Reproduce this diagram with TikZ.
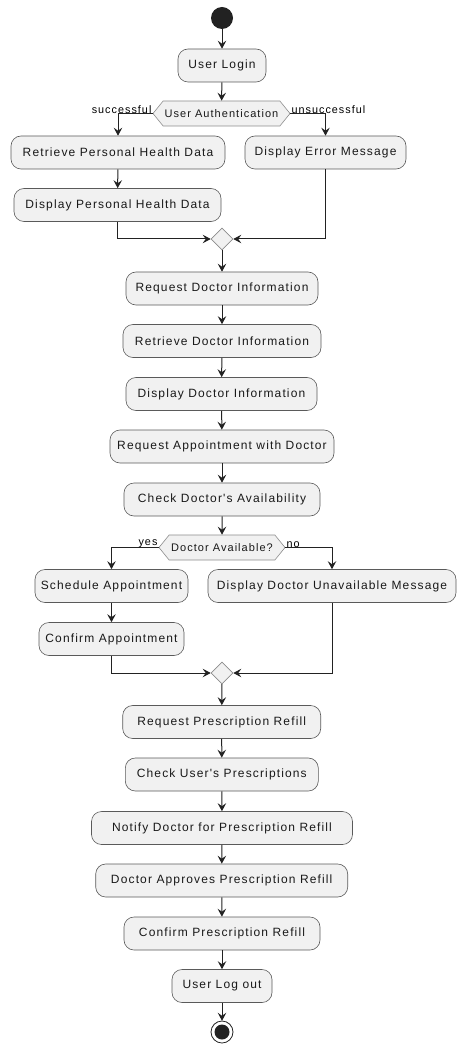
\documentclass[tikz,border=0pt]{standalone}
\usepackage{fontspec}
\setmainfont{Liberation Sans}[LetterSpace=9.5, Ligatures=TeXOff]
\usetikzlibrary{arrows.meta,shapes.symbols,shapes.geometric}
\definecolor{boxfill}{HTML}{F1F1F1}
\definecolor{boxline}{HTML}{5A5A5A}
\definecolor{arr}{HTML}{222222}
\tikzset{
  act/.style={draw=boxline, line width=0.6pt, fill=boxfill, rounded corners=10pt,
    minimum height=33pt, inner xsep=2pt, inner ysep=0pt, font=\fontsize{12}{14}\selectfont, text=black!90},
  dec/.style={shape=signal, signal to=west and east, signal pointer angle=102,
    draw=black!45, line width=0.6pt, fill=boxfill, minimum height=25pt, inner xsep=1pt, inner ysep=0pt,
    font=\fontsize{11}{13}\selectfont, text=black!90},
  merge/.style={diamond, draw=black!45, line width=0.6pt, fill=boxfill, minimum width=22pt, minimum height=22pt, inner sep=0pt},
  flow/.style={draw=arr, line width=1pt, -{Stealth[length=8pt,width=8.5pt,inset=3pt]}},
  lbl/.style={font=\fontsize{10.8}{13}\selectfont, text=black, inner sep=1pt},
}
\begin{document}
\begin{tikzpicture}[x=1pt,y=-1pt]
\useasboundingbox (0,0) rectangle (467,1056);
\fill[arr] (222,18) circle (11pt);
\node[minimum size=22pt, inner sep=0pt] (start) at (222,18) {};

\node[act, minimum width=88pt] (login) at (222,65.5) {User Login};
\node[dec, minimum width=137pt] (auth) at (221.5,113.5) {User Authentication};
\node[act, minimum width=214pt] (ret) at (118,152.5) {Retrieve Personal Health Data};
\node[act, minimum width=161pt] (err) at (325.5,152.5) {Display Error Message};
\node[act, minimum width=207pt] (dphd) at (117.5,205) {Display Personal Health Data};
\node[merge] (m1) at (222,239) {};

\node[act, minimum width=192pt] (reqdoc) at (222,288.5) {Request Doctor Information};
\node[act, minimum width=198pt] (retdoc) at (222,341) {Retrieve Doctor Information};
\node[act, minimum width=191pt] (dispdoc) at (221.5,394) {Display Doctor Information};
\node[act, minimum width=224pt] (reqapp) at (222,446.5) {Request Appointment with Doctor};
\node[act, minimum width=196pt] (check) at (222,499.5) {Check Doctor's Availability};
\node[dec, minimum width=126pt] (avail) at (222,547.5) {Doctor Available?};
\node[act, minimum width=153pt] (sched) at (111.5,586) {Schedule Appointment};
\node[act, minimum width=248pt] (unav) at (332,586) {Display Doctor Unavailable Message};
\node[act, minimum width=145pt] (confapp) at (111.5,639) {Confirm Appointment};
\node[merge] (m2) at (222,673) {};

\node[act, minimum width=198pt] (reqpre) at (221.7,722) {Request Prescription Refill};
\node[act, minimum width=193pt] (checkpre) at (221.8,774.5) {Check User's Prescriptions};
\node[act, minimum width=261pt] (notify) at (222,828) {Notify Doctor for Prescription Refill};
\node[act, minimum width=252pt] (approve) at (221.7,880.5) {Doctor Approves Prescription Refill};
\node[act, minimum width=196pt] (confpre) at (222,933.5) {Confirm Prescription Refill};
\node[act, minimum width=100pt] (logout) at (222,986) {User Log out};

\draw[draw=arr, line width=0.8pt, fill=white] (222,1032) circle (11pt);
\fill[arr] (222,1032) circle (7.5pt);
\node[minimum size=22pt, inner sep=0pt] (end) at (222,1032) {};

\draw[flow] (start) -- (login);
\draw[flow] (login) -- (auth);
\draw[flow] (auth.west) -| (ret.north);
\draw[flow] (auth.east) -| (err.north);
\node[lbl, anchor=south east] at ([yshift=-1pt]auth.west) {successful};
\node[lbl, anchor=south west] at ([yshift=-1pt]auth.east) {unsuccessful};
\draw[flow] (ret) -- (dphd);
\draw[flow] (dphd.south) |- (m1.west);
\draw[flow] (err.south) |- (m1.east);
\draw[flow] (m1) -- (reqdoc);
\draw[flow] (reqdoc) -- (retdoc);
\draw[flow] (retdoc) -- (dispdoc);
\draw[flow] (dispdoc) -- (reqapp);
\draw[flow] (reqapp) -- (check);
\draw[flow] (check) -- (avail);
\draw[flow] (avail.west) -| (sched.north);
\draw[flow] (avail.east) -| (unav.north);
\node[lbl, anchor=south east] at ([yshift=-1pt]avail.west) {yes};
\node[lbl, anchor=south west] at ([yshift=-1pt]avail.east) {no};
\draw[flow] (sched) -- (confapp);
\draw[flow] (confapp.south) |- (m2.west);
\draw[flow] (unav.south) |- (m2.east);
\draw[flow] (m2) -- (reqpre);
\draw[flow] (reqpre) -- (checkpre);
\draw[flow] (checkpre) -- (notify);
\draw[flow] (notify) -- (approve);
\draw[flow] (approve) -- (confpre);
\draw[flow] (confpre) -- (logout);
\draw[flow] (logout) -- (end);
\end{tikzpicture}
\end{document}
